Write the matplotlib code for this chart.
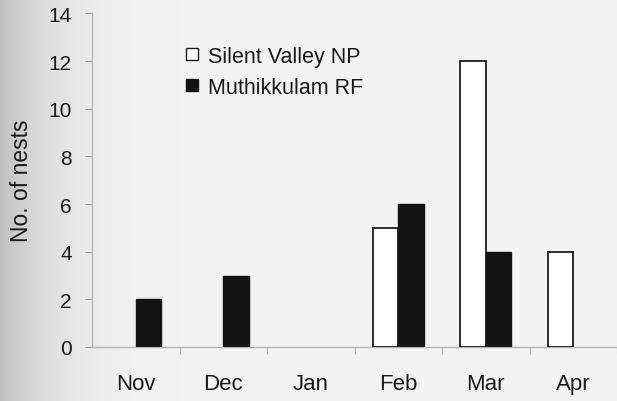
import numpy as np
import matplotlib
matplotlib.use("Agg")
import matplotlib.pyplot as plt
from matplotlib.lines import Line2D

months = ["Nov", "Dec", "Jan", "Feb", "Mar", "Apr"]
silent_valley = [0, 0, 0, 5, 12, 4]
muthikkulam = [2, 3, 0, 6, 4, 0]
series_names = ["Silent Valley NP", "Muthikkulam RF"]
y_ticks = [0, 2, 4, 6, 8, 10, 12, 14]

plt.rcParams['font.family'] = ['Liberation Sans', 'DejaVu Sans']

W, H = 617, 402
fig = plt.figure(figsize=(W / 100, H / 100), dpi=100)
fig.patch.set_facecolor('#f4f4f4')

# scanned-paper style background shading on the left
bg = fig.add_axes([0, 0, 1, 1], zorder=-10)
xs = np.arange(W)
shade = 0.957 - 0.21 * np.exp(-xs / 55.0)
img = np.tile(shade, (H, 1))
bg.imshow(img, cmap='gray', vmin=0, vmax=1, aspect='auto', extent=[0, W, 0, H])
bg.set_axis_off()

ax = fig.add_axes([92 / W, 54 / H, (617 - 92) / W, (348 - 14.4) / H])
ax.patch.set_alpha(0)

x = np.arange(len(months))
bw = 0.293
b1 = ax.bar(x - bw / 2, silent_valley, bw, facecolor='white', edgecolor='#1a1a1a',
            linewidth=1.3, label=series_names[0], zorder=3)
b2 = ax.bar(x + bw / 2, muthikkulam, bw, facecolor='#141414', edgecolor='#141414',
            linewidth=1.0, label=series_names[1], zorder=3)
for p in list(b1) + list(b2):
    if p.get_height() == 0:
        p.set_visible(False)

ax.set_xlim(-0.5, 5.217)
ax.set_ylim(0, 14)
ax.set_yticks(y_ticks)
ax.set_xticks(x)
ax.set_xticklabels(months)
ax.set_xticks(np.arange(len(months)) + 0.5, minor=True)

for s in ['top', 'right']:
    ax.spines[s].set_visible(False)
for s in ['left', 'bottom']:
    ax.spines[s].set_color('#b4b4b4')
    ax.spines[s].set_linewidth(1.0)

ax.tick_params(axis='y', which='major', length=5, width=0.8, color='#9a9a9a',
               labelsize=15, pad=9.5, labelcolor='#1a1a1a')
ax.tick_params(axis='x', which='major', length=0, labelsize=16, pad=18.5,
               labelcolor='#1a1a1a')
ax.tick_params(axis='x', which='minor', length=5, width=0.8, color='#b4b4b4')

ax.set_ylabel("No. of nests", fontsize=16.5, color='#1a1a1a')
ax.yaxis.set_label_coords(-0.112, 0.5)

handles = [
    Line2D([], [], linestyle='none', marker='s', markersize=8.5, markerfacecolor='white',
           markeredgecolor='#1a1a1a', markeredgewidth=1.0),
    Line2D([], [], linestyle='none', marker='s', markersize=8.5, markerfacecolor='#141414',
           markeredgecolor='#141414'),
]
fig.legend(handles, series_names, loc='upper left',
           bbox_to_anchor=(184 / W, 1 - 47 / H), frameon=False, fontsize=15.5,
           handlelength=0.75, handletextpad=0.35, labelspacing=0.45,
           borderpad=0, borderaxespad=0, labelcolor='#1a1a1a')

fig.savefig("out.png", dpi=100, facecolor=fig.get_facecolor())
